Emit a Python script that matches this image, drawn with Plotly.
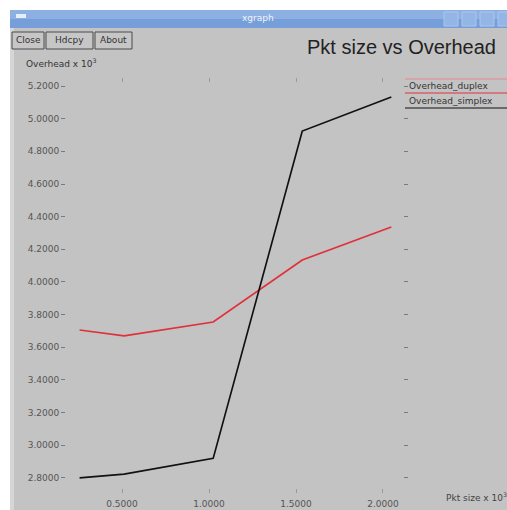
import plotly.graph_objects as go

# Packet size (x 10^3 bytes) and overhead (x 10^3)
pkt_size = [0.256, 0.512, 1.024, 1.536, 2.048]
overhead_duplex = [3.706, 3.670, 3.755, 4.135, 4.337]
overhead_simplex = [2.800, 2.824, 2.920, 4.924, 5.133]
series_names = ["Overhead_duplex", "Overhead_simplex"]
x_ticks = [0.5, 1.0, 1.5, 2.0]
y_ticks = [2.8, 3.0, 3.2, 3.4, 3.6, 3.8, 4.0, 4.2, 4.4, 4.6, 4.8, 5.0, 5.2]

W, H = 507, 510
L, R, T, B = 66, 104, 78, 17
PW, PH = W - L - R, H - T - B


def px(x):
    return (x - L) / PW


def py(y):
    return 1 - (y - T) / PH


fig = go.Figure()
fig.add_trace(go.Scatter(x=pkt_size, y=overhead_duplex, mode="lines",
                         name=series_names[0],
                         line=dict(color="#e0303a", width=1.7)))
fig.add_trace(go.Scatter(x=pkt_size, y=overhead_simplex, mode="lines",
                         name=series_names[1],
                         line=dict(color="#111111", width=1.7)))

shapes = []
# white surroundings of the window
shapes.append(dict(type="rect", xref="paper", yref="paper", layer="below",
                   x0=px(0), x1=px(W), y0=py(0), y1=py(10),
                   fillcolor="white", line_width=0))
shapes.append(dict(type="rect", xref="paper", yref="paper", layer="below",
                   x0=px(0), x1=px(10), y0=py(0), y1=py(H),
                   fillcolor="white", line_width=0))
# window left frame
shapes.append(dict(type="rect", xref="paper", yref="paper", layer="below",
                   x0=px(10), x1=px(14), y0=py(28), y1=py(H),
                   fillcolor="#d6d6d6", line_width=0))
# title bar
shapes.append(dict(type="rect", xref="paper", yref="paper", layer="below",
                   x0=px(10), x1=px(W), y0=py(10), y1=py(19),
                   fillcolor="#8db0e2", line_width=0))
shapes.append(dict(type="rect", xref="paper", yref="paper", layer="below",
                   x0=px(10), x1=px(W), y0=py(19), y1=py(28),
                   fillcolor="#769ed8", line_width=0))
# window menu icon
shapes.append(dict(type="rect", xref="paper", yref="paper",
                   x0=px(16), x1=px(26), y0=py(14), y1=py(18),
                   fillcolor="#e6eefa", line_width=0))
# title bar buttons
for bx in (444, 462, 480, 498):
    shapes.append(dict(type="rect", xref="paper", yref="paper",
                       x0=px(bx), x1=px(bx + 14), y0=py(12), y1=py(26),
                       fillcolor="#93b6e6", line=dict(color="#abc6ec", width=1)))

annotations = []
annotations.append(dict(text="xgraph", xref="paper", yref="paper",
                        x=px(258), y=py(18), xanchor="center", yanchor="middle",
                        showarrow=False,
                        font=dict(family="DejaVu Sans", size=9, color="#eef3fb")))

# buttons
for label, x0, x1 in (("Close", 12, 44), ("Hdcpy", 46, 93), ("About", 95, 132)):
    shapes.append(dict(type="rect", xref="paper", yref="paper", layer="below",
                       x0=px(x0), x1=px(x1), y0=py(32), y1=py(49),
                       fillcolor="#c6c6c6", line=dict(color="#4a4a4a", width=1)))
    annotations.append(dict(text=label, xref="paper", yref="paper",
                            x=px((x0 + x1) / 2), y=py(40.5),
                            xanchor="center", yanchor="middle", showarrow=False,
                            font=dict(family="DejaVu Sans", size=9, color="#333333")))

# title and axis labels
annotations.append(dict(text="Pkt size vs Overhead", xref="paper", yref="paper",
                        x=px(498), y=py(47), xanchor="right", yanchor="middle",
                        showarrow=False,
                        font=dict(family="Liberation Sans", size=20, color="#222222")))
annotations.append(dict(text="Overhead x 10<sup>3</sup>", xref="paper", yref="paper",
                        x=px(24), y=py(63), xanchor="left", yanchor="middle",
                        showarrow=False,
                        font=dict(family="DejaVu Sans", size=9, color="#333333")))
annotations.append(dict(text="Pkt size x 10<sup>3</sup>", xref="paper", yref="paper",
                        x=px(444), y=py(497), xanchor="left", yanchor="middle",
                        showarrow=False,
                        font=dict(family="DejaVu Sans", size=9, color="#444444")))

# legend entries with colored underline
legend_rows = [(series_names[0], "#e0303a", 86), (series_names[1], "#111111", 101)]
for name, color, yy in legend_rows:
    annotations.append(dict(text=name, xref="paper", yref="paper",
                            x=px(407), y=py(yy), xanchor="left", yanchor="middle",
                            showarrow=False,
                            font=dict(family="DejaVu Sans", size=9, color="#333333")))
    shapes.append(dict(type="line", xref="paper", yref="paper",
                       x0=px(405), x1=px(W), y0=py(yy + 7), y1=py(yy + 7),
                       line=dict(color=color, width=1)))
shapes.append(dict(type="line", xref="paper", yref="paper",
                   x0=px(405), x1=px(W), y0=py(79), y1=py(79),
                   line=dict(color="#e58a95", width=1)))

fig.update_layout(
    width=W, height=H,
    margin=dict(l=L, r=R, t=T, b=B, pad=0, autoexpand=False),
    paper_bgcolor="#c3c3c3",
    plot_bgcolor="rgba(0,0,0,0)",
    showlegend=False,
    shapes=shapes,
    annotations=annotations,
    xaxis=dict(range=[0.178, 2.115], tickvals=x_ticks, tickformat=".4f",
               automargin=False,
               showgrid=False, zeroline=False, showline=False,
               ticks="inside", ticklen=4, tickcolor="#9a9a9a", mirror="ticks",
               tickfont=dict(family="DejaVu Sans", size=9, color="#555555"),
               ticklabelstandoff=4),
    yaxis=dict(range=[2.708, 5.249], tickvals=y_ticks, tickformat=".4f",
               automargin=False,
               showgrid=False, zeroline=False, showline=False,
               ticks="outside", ticklen=4, tickcolor="#7a7a7a", mirror="ticks",
               tickfont=dict(family="DejaVu Sans", size=9, color="#555555")),
)

fig.write_html("out.html")
